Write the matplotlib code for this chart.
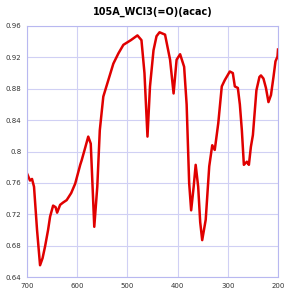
import matplotlib
matplotlib.use("Agg")
import matplotlib.pyplot as plt
import numpy as np

title = "105A_WCl3(=O)(acac)"
wavenumber = [700, 694, 690, 686, 680, 674, 669, 664, 658, 654, 648, 643, 640, 634, 628, 621, 612, 604, 594, 591, 584,
              578, 573, 566, 560, 555, 548, 538, 528, 518, 508, 493, 480, 472, 466, 460, 455, 448, 442, 436, 425, 415,
              408, 402, 395, 387, 382, 377, 373, 368, 364, 359, 355, 351, 344, 337, 331, 326, 319, 312, 306, 296,
              290, 286, 280, 276, 272, 268, 262, 258, 254, 250, 243, 237, 234, 229, 224, 219, 214, 209, 205, 201, 200]
transmittance = [0.772, 0.763, 0.765, 0.755, 0.700, 0.655, 0.664, 0.679, 0.700, 0.717, 0.731, 0.729, 0.722, 0.732,
                 0.735, 0.738, 0.747, 0.759, 0.783, 0.789, 0.805, 0.819, 0.810, 0.704, 0.755, 0.827, 0.870, 0.891,
                 0.912, 0.925, 0.936, 0.942, 0.948, 0.942, 0.900, 0.819, 0.883, 0.929, 0.947, 0.952, 0.949, 0.917,
                 0.874, 0.917, 0.924, 0.908, 0.860, 0.760, 0.725, 0.755, 0.783, 0.755, 0.710, 0.687, 0.713, 0.781,
                 0.808, 0.802, 0.836, 0.883, 0.891, 0.902, 0.900, 0.883, 0.881, 0.860, 0.827, 0.783, 0.787, 0.783,
                 0.806, 0.821, 0.878, 0.895, 0.897, 0.893, 0.881, 0.863, 0.872, 0.895, 0.915, 0.921, 0.930]
x_ticks = [700, 600, 500, 400, 300, 200]
y_ticks = [0.64, 0.68, 0.72, 0.76, 0.80, 0.84, 0.88, 0.92, 0.96]

fig = plt.figure(figsize=(3.03, 2.99), dpi=100)
ax = fig.add_axes([27/303, 22/299, 251/303, 251/299])
ax.plot(wavenumber, transmittance, color="#e00000", lw=1.8, solid_joinstyle="round")
ax.set_xlim(700, 200)
ax.set_ylim(0.64, 0.96)
ax.set_xticks(x_ticks)
ax.set_yticks(y_ticks)
ax.set_yticklabels([("%.2f" % v).rstrip("0") if ("%.2f" % v).endswith("0") else "%.2f" % v for v in y_ticks])
ax.grid(True, color="#d0d0f4", lw=0.8)
for s in ax.spines.values():
    s.set_color("#b8b8f0")
    s.set_linewidth(0.8)
ax.tick_params(axis="both", labelsize=5, length=0, pad=4, colors="#333333")
ax.set_title(title, fontsize=7, fontweight="bold", pad=8)
fig.savefig("out.png", dpi=100)
